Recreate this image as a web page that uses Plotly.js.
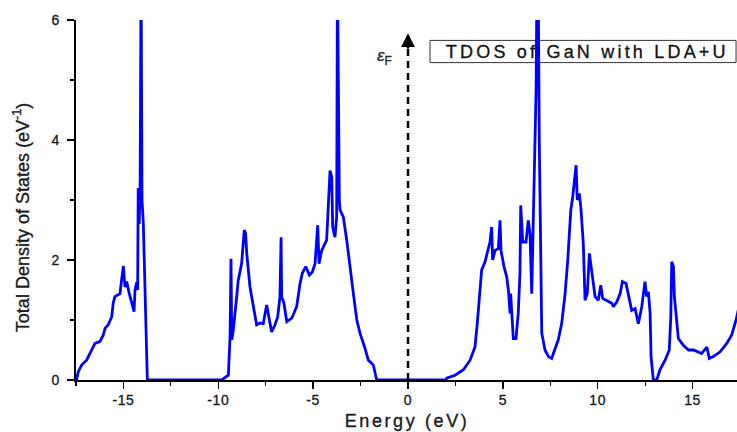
<!DOCTYPE html>
<html>
<head>
<meta charset="utf-8">
<script src="https://cdn.plot.ly/plotly-3.0.1.min.js"></script>
<style>
html,body{margin:0;padding:0;background:#fff;}
#chart{width:737px;height:432px;}
#chart .xtick text{letter-spacing:0.6px;}
#chart .xtick text, #chart .ytick text, #chart .annotation text{stroke:#1a1a1a;stroke-width:0.35px;}
#chart .annotation[data-index="0"] text{letter-spacing:3.2px;}
#chart .annotation[data-index="3"] text{letter-spacing:2.6px;}
</style>
</head>
<body>
<div id="chart"></div>
<script>
// Energy (eV) and total DOS (states/eV)
const energy = [
 -17.5,-17.46,-17.38,-17.2,-16.94,-16.68,-16.5,-16.24,-16.06,-15.97,-15.8,-15.62,-15.54,-15.45,-15.18,-15.1,-15.0,-14.92,-14.83,-14.69,-14.56,-14.44,-14.39,-14.3,-14.25,-14.22,-14.17,-14.12,-14.07,-14.02,-13.95,-13.86,-13.74,
 -9.82,-9.47,-9.38,-9.33,-9.29,-9.21,-9.03,-8.95,-8.77,-8.63,-8.56,-8.5,-8.33,-8.15,-7.98,-7.8,-7.63,-7.45,-7.36,-7.19,-7.01,-6.87,-6.75,-6.69,-6.66,-6.54,-6.39,-6.13,-5.87,-5.69,-5.57,-5.39,-5.2,-5.04,-4.9,-4.76,-4.69,-4.55,-4.29,-4.2,-4.11,-4.02,-3.97,-3.85,-3.76,-3.72,-3.67,-3.62,-3.58,-3.41,-3.23,-3.06,-2.88,-2.7,-2.53,-2.27,-2.09,-1.83,-1.65,
 2.0,2.04,2.48,2.92,3.27,3.53,3.65,3.76,3.88,4.06,4.23,4.32,4.41,4.46,4.59,4.76,4.85,4.9,5.06,5.2,5.29,5.38,5.41,5.47,5.55,5.69,5.81,5.9,5.94,6.05,6.22,6.34,6.43,6.52,6.61,6.69,6.75,6.8,6.86,6.92,7.01,7.05,7.22,7.4,7.57,7.75,7.92,8.1,8.28,8.42,8.58,8.68,8.77,8.86,8.92,9.03,9.12,9.24,9.33,
 9.45,9.56,9.68,9.86,10.03,10.16,10.26,10.47,10.74,10.82,11.0,11.18,11.3,11.49,11.62,11.79,11.97,12.14,12.32,12.4,12.49,12.58,12.67,12.76,12.81,12.93,13.11,13.28,13.55,13.77,13.85,13.9,13.99,14.04,14.13,14.25,14.51,14.78,15.04,15.3,15.48,15.75,15.88,16.09,16.45,16.8,17.06,17.29,17.5
];
const dos = [
 0,0.02,0.14,0.25,0.33,0.5,0.61,0.64,0.75,0.86,0.92,1.05,1.28,1.39,1.44,1.66,1.9,1.55,1.64,1.44,1.3,1.14,1.5,1.63,1.5,3.2,2.6,3.2,6.8,3.0,2.6,1.4,0,
 0,0.08,0.72,2.02,0.67,0.83,1.39,1.66,1.94,2.5,2.44,2.11,1.55,1.22,0.92,0.95,0.94,1.25,1.11,0.8,0.92,1.05,1.39,2.38,1.39,1.28,0.97,1.03,1.22,1.61,1.78,1.89,1.75,1.8,1.94,2.58,1.94,2.16,2.33,3.05,3.49,3.38,2.55,2.38,2.72,6.8,3.75,3.0,2.83,2.72,2.33,1.94,1.44,1.0,0.78,0.53,0.33,0.25,0,
 0,0.03,0.08,0.17,0.33,0.55,0.94,1.44,1.83,1.97,2.16,2.3,2.55,2.0,2.16,2.19,2.66,2.16,1.89,1.72,1.5,1.11,1.44,1.0,0.69,0.69,1.11,1.78,2.91,2.3,2.3,2.66,2.44,1.44,2.94,3.77,4.83,6.8,6.8,3.94,1.89,0.78,0.5,0.39,0.36,0.53,0.67,0.94,1.44,2.0,2.83,3.05,3.33,3.58,3.0,3.11,2.83,2.27,1.33,
 1.44,2.11,1.78,1.39,1.33,1.58,1.36,1.33,1.28,1.22,1.3,1.44,1.64,1.61,1.39,1.16,1.19,0.94,1.22,1.44,1.64,1.39,1.47,1.11,0.39,0,0,0.17,0.33,0.5,1.05,1.97,1.89,1.39,1.05,0.69,0.58,0.5,0.5,0.47,0.44,0.55,0.36,0.39,0.47,0.61,0.75,1.0,1.3
];
const xTicks = [-15,-10,-5,0,5,10,15];
const yTicks = [0,2,4,6];
const legendText = "TDOS of GaN with LDA+U";
const xTitle = "Energy (eV)";
const yTitle = "Total Density of States (eV<sup>-1</sup>)";
const fermiLabel = "<i>ε</i><sub>F</sub>";

const font = "Arial, 'Liberation Sans', sans-serif";

const trace = {
  x: energy, y: dos, type: 'scatter', mode: 'lines',
  line: {color: 'rgb(0,0,255)', width: 2.8},
  hoverinfo: 'skip', showlegend: false
};

const layout = {
  width: 737, height: 432,
  margin: {l: 76, r: 0, t: 20, b: 52},
  paper_bgcolor: '#fff', plot_bgcolor: '#fff',
  font: {family: font, color: '#1a1a1a'},
  showlegend: false,
  xaxis: {
    range: [-17.5, 17.34], tickvals: xTicks, ticktext: xTicks.map(String),
    showgrid: false, zeroline: false, showline: true, linecolor: '#000', linewidth: 1.5,
    ticks: 'outside', ticklen: 7, tickwidth: 1.5, tickcolor: '#000',
    tickfont: {size: 14, color: '#1a1a1a', family: font},
    minor: {dtick: 2.5, tick0: 0, ticks: 'outside', ticklen: 4, tickwidth: 1.2, tickcolor: '#000', showgrid: false},
    layer: 'below traces'
  },
  yaxis: {
    range: [0, 6], tickvals: yTicks, ticktext: yTicks.map(String),
    showgrid: false, zeroline: false, showline: true, linecolor: '#000', linewidth: 1.8,
    ticks: 'outside', ticklen: 7, tickwidth: 1.5, tickcolor: '#000',
    ticklabelstandoff: 5,
    tickfont: {size: 14, color: '#1a1a1a', family: font},
    minor: {dtick: 1, tick0: 0, ticks: 'outside', ticklen: 4, tickwidth: 1.2, tickcolor: '#000', showgrid: false},
    layer: 'below traces'
  },
  shapes: [
    {type: 'rect', xref: 'x', yref: 'y', x0: 1.16, x1: 17.29, y0: 5.29, y1: 5.66,
     line: {color: '#333', width: 1}, fillcolor: 'rgba(255,255,255,0)', layer: 'below'},
    {type: 'line', xref: 'x', yref: 'y', x0: 0, x1: 0, y0: 0, y1: 5.58,
     line: {color: '#000', width: 2.5, dash: '7px,5px'}}
  ],
  annotations: [
    {xref: 'x', yref: 'y', x: 9.45, y: 5.475, text: legendText, showarrow: false,
     font: {size: 18, color: '#111', family: font}, xanchor: 'center', yanchor: 'middle'},
    {xref: 'x', yref: 'y', x: 0, y: 5.78, ax: 0, ay: 5.5, axref: 'x', ayref: 'y',
     text: '', showarrow: true, arrowhead: 2, arrowsize: 1.1, arrowwidth: 2.5, arrowcolor: '#000'},
    {xref: 'x', yref: 'y', x: -1.25, y: 5.38, text: fermiLabel, showarrow: false,
     font: {size: 17, color: '#333', family: font}},
    {xref: 'paper', yref: 'paper', x: 0.5, y: -0.115, text: xTitle, showarrow: false,
     font: {size: 18, color: '#1a1a1a', family: font}, xanchor: 'center', yanchor: 'middle'},
    {xref: 'paper', yref: 'paper', x: -0.083, y: 0.45, text: yTitle, showarrow: false, textangle: -90,
     font: {size: 18, color: '#1a1a1a', family: font}, xanchor: 'center', yanchor: 'middle'}
  ]
};

Plotly.newPlot('chart', [trace], layout, {staticPlot: true, displayModeBar: false});
</script>
</body>
</html>
